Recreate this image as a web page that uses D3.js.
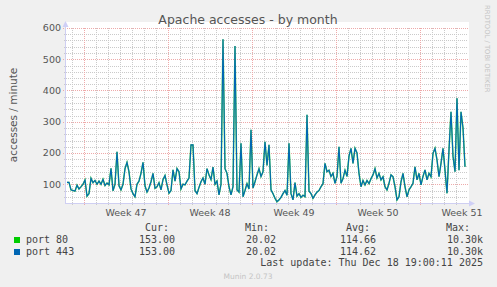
<!DOCTYPE html>
<html>
<head>
<meta charset="utf-8">
<script src="https://cdn.jsdelivr.net/npm/d3@7"></script>
<style>
  body { margin: 0; background: #f0f0f0; }
  svg { display: block; }
  text { font-family: "DejaVu Sans", sans-serif; }
  .mono { font-family: "DejaVu Sans Mono", monospace; }
</style>
</head>
<body>
<svg id="chart" width="497" height="287"></svg>
<script>
// samples every 4 hours, starting Sat Nov 15 2025 14:00 UTC
const seriesStart = Date.UTC(2025, 10, 15, 14);
const stepHours = 4;

const port80 = [
  106, 106, 82, 80, 78, 97, 85, 92, 100, 114,
  62, 70, 119, 105, 112, 100, 110, 100, 116, 96,
  104, 98, 151, 79, 100, 204, 95, 82, 100, 150,
  170, 140, 85, 70, 60, 100, 110, 135, 170, 95,
  75, 88, 108, 135, 87, 92, 105, 82, 115, 128,
  98, 71, 80, 146, 110, 150, 140, 85, 100, 98,
  110, 120, 226, 226, 80, 70, 90, 108, 120, 100,
  150, 130, 115, 155, 100, 110, 66, 100, 564, 150,
  135, 92, 66, 92, 542, 82, 75, 231, 60, 80,
  102, 85, 274, 88, 108, 130, 150, 125, 140, 236,
  160, 226, 82, 70, 55, 44, 50, 58, 70, 80,
  65, 231, 70, 50, 105, 62, 70, 58, 65, 60,
  322, 78, 70, 55, 66, 75, 80, 92, 102, 167,
  140, 145, 125, 135, 103, 125, 220, 103, 118, 145,
  125, 190, 215, 167, 215, 200, 135, 92, 112, 98,
  112, 102, 118, 130, 150, 120, 135, 114, 124, 92,
  82, 103, 130, 124, 92, 50, 60, 108, 135, 92,
  60, 82, 92, 103, 156, 114, 135, 98, 125, 146,
  114, 135, 124, 199, 215, 178, 124, 167, 215, 145,
  71, 210, 332, 190, 140, 375, 145, 332, 280, 156
];
// port 443 reads the same as port 80 on the picture
const port443 = [...port80];

const seriesNames = ["port 80", "port 443"];
const seriesColors = ["#00cc00", "#0066b3"];
const statHeaders = ["Cur:", "Min:", "Avg:", "Max:"];
const statValues = [
  ["153.00", "20.02", "114.66", "10.30k"],
  ["153.00", "20.02", "114.62", "10.30k"]
];

const yTicks = [100, 200, 300, 400, 500, 600];
const weekLabels = ["Week 47", "Week 48", "Week 49", "Week 50", "Week 51"];
const weekStarts = [
  Date.UTC(2025, 10, 17), Date.UTC(2025, 10, 24), Date.UTC(2025, 11, 1),
  Date.UTC(2025, 11, 8), Date.UTC(2025, 11, 15)
];

const title = "Apache accesses - by month";
const yTitle = "accesses / minute";
const lastUpdate = "Last update: Thu Dec 18 19:00:11 2025";

const svg = d3.select("#chart");
const pLeft = 66, pRight = 468, pTop = 28, pBottom = 203;

const x = d3.scaleUtc()
  .domain([new Date(Date.UTC(2025, 10, 15, 12)), new Date(Date.UTC(2025, 11, 19))])
  .range([pLeft, pRight]);
const y = d3.scaleLinear().domain([40, 600]).range([pBottom, pTop]);

const times = port80.map((d, i) => new Date(seriesStart + i * stepHours * 3600e3));

// plot background
svg.append("rect").attr("x", pLeft).attr("y", 22).attr("width", pRight - pLeft + 1)
  .attr("height", pBottom - 22).attr("fill", "#fff");

// grid, dotted
const days = d3.utcDay.range(x.domain()[0], x.domain()[1]);
const mondays = weekStarts.map(d => new Date(d));
const minorCol = "#cacaca", majorCol = "#eeaaaa";
const grid = svg.append("g");
grid.selectAll(".vmin").data(days).join("line")
  .attr("x1", d => Math.round(x(d)) + 0.5).attr("x2", d => Math.round(x(d)) + 0.5)
  .attr("y1", pTop).attr("y2", pBottom + 2)
  .attr("stroke", minorCol).attr("stroke-dasharray", "1,1");
const hMinor = d3.range(60, 601, 20).filter(v => v % 100 !== 0);
grid.selectAll(".hmin").data(hMinor).join("line")
  .attr("x1", pLeft - 2).attr("x2", pRight)
  .attr("y1", d => Math.round(y(d)) + 0.5).attr("y2", d => Math.round(y(d)) + 0.5)
  .attr("stroke", minorCol).attr("stroke-dasharray", "1,1");
grid.selectAll(".vmaj").data(mondays).join("line")
  .attr("x1", d => Math.round(x(d)) + 0.5).attr("x2", d => Math.round(x(d)) + 0.5)
  .attr("y1", pTop).attr("y2", pBottom + 3)
  .attr("stroke", majorCol).attr("stroke-dasharray", "1,1");
grid.selectAll(".hmaj").data(yTicks).join("line")
  .attr("x1", pLeft - 3).attr("x2", pRight)
  .attr("y1", d => Math.round(y(d)) + 0.5).attr("y2", d => Math.round(y(d)) + 0.5)
  .attr("stroke", majorCol).attr("stroke-dasharray", "1,1");

// axis lines with arrows
svg.append("line").attr("x1", pLeft - 0.5).attr("x2", pLeft - 0.5).attr("y1", 25).attr("y2", pBottom + 1)
  .attr("stroke", "#cfcff2");
svg.append("line").attr("x1", pLeft - 1).attr("x2", pRight + 2).attr("y1", pBottom + 0.5).attr("y2", pBottom + 0.5)
  .attr("stroke", "#cfcff2");
svg.append("path").attr("d", `M${pLeft - 3.5},27 L${pLeft - 0.5},21 L${pLeft + 2.5},27 Z`).attr("fill", "#cfcff6");
svg.append("path").attr("d", `M${pRight + 1},${pBottom - 2.5} L${pRight + 7},${pBottom + 0.5} L${pRight + 1},${pBottom + 3.5} Z`).attr("fill", "#cfcff6");

// lines: port 443 drawn over port 80
const line = d3.line().x((d, i) => x(times[i])).y(d => y(d));
svg.append("path").datum(port80).attr("d", line)
  .attr("fill", "none").attr("stroke", seriesColors[0]).attr("stroke-width", 1.5)
  .attr("stroke-opacity", 0.7);
svg.append("path").datum(port443).attr("d", line)
  .attr("fill", "none").attr("stroke", seriesColors[1]).attr("stroke-width", 1.1);

// y tick labels
svg.append("g").selectAll("text").data(yTicks).join("text")
  .attr("x", 61).attr("y", d => y(d)).attr("dy", "0.35em")
  .attr("text-anchor", "end").attr("font-size", 9.5).attr("fill", "#555")
  .text(d => d);

// week labels
svg.append("g").selectAll("text").data(weekLabels).join("text")
  .attr("x", (d, i) => x(new Date(weekStarts[i] + 3.5 * 864e5)))
  .attr("y", 216).attr("text-anchor", "middle")
  .attr("font-size", 9.5).attr("fill", "#555").text(d => d);

// titles
svg.append("text").attr("x", 248).attr("y", 24).attr("text-anchor", "middle")
  .attr("font-size", 12.5).attr("fill", "#555").text(title);
svg.append("text").attr("transform", "translate(17,115) rotate(-90)")
  .attr("text-anchor", "middle").attr("font-size", 10.5).attr("fill", "#555").text(yTitle);
svg.append("text").attr("transform", "translate(485,5) rotate(90)")
  .attr("font-size", 6.8).attr("fill", "#c4c4c4").text("RRDTOOL / TOBI OETIKER");

// legend
const statRight = [175, 276, 376, 483];
const headRight = [169, 269, 370, 470];
svg.append("g").selectAll("text").data(statHeaders).join("text")
  .attr("class", "mono").attr("x", (d, i) => headRight[i]).attr("y", 231)
  .attr("text-anchor", "end").attr("font-size", 10).attr("fill", "#444").text(d => d);
seriesNames.forEach((name, r) => {
  const by = 243 + r * 12;
  svg.append("rect").attr("x", 14).attr("y", by - 6).attr("width", 6).attr("height", 6)
    .attr("fill", seriesColors[r]);
  svg.append("text").attr("class", "mono").attr("x", 26).attr("y", by)
    .attr("font-size", 10).attr("fill", "#444").text(name);
  statValues[r].forEach((v, c) => {
    svg.append("text").attr("class", "mono").attr("x", statRight[c]).attr("y", by)
      .attr("text-anchor", "end").attr("font-size", 10).attr("fill", "#444").text(v);
  });
});
svg.append("text").attr("class", "mono").attr("x", 483).attr("y", 266)
  .attr("text-anchor", "end").attr("font-size", 10).attr("fill", "#444").text(lastUpdate);
svg.append("text").attr("x", 248).attr("y", 279).attr("text-anchor", "middle")
  .attr("font-size", 7.5).attr("fill", "#c4c4c4").text("Munin 2.0.73");
</script>
</body>
</html>
